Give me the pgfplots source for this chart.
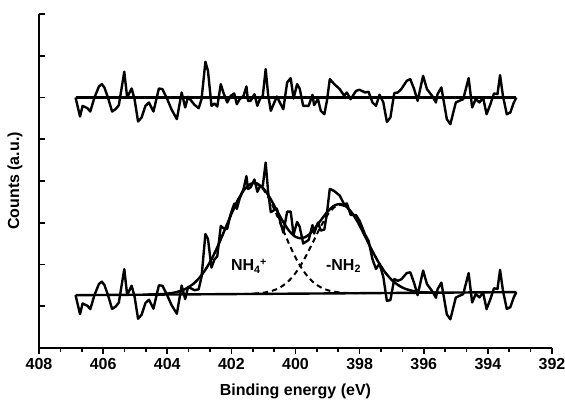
\documentclass[border=0pt]{standalone}
\usepackage{fontspec}
\setmainfont{Liberation Sans}
\usepackage{pgfplots}
\pgfplotsset{compat=1.18}

\begin{document}
\begin{tikzpicture}
\begin{axis}[
  scale only axis,
  width=384.75pt, height=250.5pt,
  x dir=reverse,
  xmin=392, xmax=408, ymin=0, ymax=8,
  axis x line*=bottom, axis y line*=left,
  axis line style={line width=1.5pt},
  xtick={392,394,...,408}, minor x tick num=2,
  ytick={0,...,8}, yticklabels={},
  xtick align=outside, ytick align=inside,
  major tick length=4.5pt, minor tick length=3pt,
  every tick/.style={line width=1.3pt, black},
  /pgf/number format/assume math mode=true,
  /pgf/number format/1000 sep={},
  tick label style={font=\fontsize{12}{14}\selectfont\bfseries},
  label style={font=\fontsize{12}{14}\selectfont\bfseries},
  xlabel={Binding energy (eV)},
  ylabel={Counts (a.u.)},
  xlabel style={at={(axis description cs:0.5,-0.13)}, anchor=center},
  ylabel style={at={(axis description cs:-0.047,0.5)}, anchor=center},
  clip=false,
]
% upper spectrum (raw)
\addplot[black, line width=1.8pt, line join=round] coordinates {
(406.86,6.00)(406.72,5.544)(406.64,5.80)(406.49,5.744)(406.40,5.664)(406.27,6.00)(406.13,6.264)(406.04,6.32)(405.96,6.24)(405.85,6.00)(405.72,5.664)(405.61,5.72)(405.51,5.816)(405.34,6.616)(405.25,6.00)(405.11,6.216)(405.02,5.96)(404.91,5.424)(404.80,5.52)(404.68,5.80)(404.57,5.88)(404.43,5.664)(404.26,6.216)(404.15,6.20)(404.00,5.96)(403.87,5.72)(403.70,5.48)(403.55,6.12)(403.44,5.76)(403.35,6.016)(403.15,5.824)(403.02,5.744)(402.93,5.96)(402.81,6.856)(402.73,6.64)(402.62,5.80)(402.53,5.856)(402.44,5.784)(402.33,6.32)(402.25,6.12)(402.13,5.88)(402.02,6.04)(401.91,6.096)(401.83,5.84)(401.74,5.96)(401.62,6.04)(401.53,6.264)(401.48,5.92)(401.40,5.92)(401.28,6.08)(401.19,5.80)(401.11,5.96)(401.02,6.04)(400.93,6.68)(400.85,6.04)(400.77,5.68)(400.66,5.88)(400.58,6.024)(400.49,5.88)(400.38,5.72)(400.26,6.36)(400.15,6.464)(400.06,5.976)(399.95,6.32)(399.87,6.216)(399.76,5.80)(399.59,5.80)(399.47,6.064)(399.42,5.816)(399.30,5.96)(399.21,5.68)(399.10,5.60)(399.02,5.92)(398.93,6.44)(398.79,6.32)(398.62,6.20)(398.48,6.04)(398.40,6.12)(398.28,5.96)(398.11,6.16)(398.00,6.184)(397.83,6.12)(397.72,6.136)(397.60,5.88)(397.49,5.80)(397.38,6.064)(397.26,5.88)(397.15,5.416)(397.04,5.52)(396.92,6.104)(396.81,6.12)(396.70,6.20)(396.53,6.40)(396.42,6.44)(396.30,6.20)(396.19,5.92)(396.02,6.52)(395.90,6.20)(395.74,6.04)(395.62,5.88)(395.57,6.08)(395.45,6.24)(395.28,5.48)(395.17,5.36)(395.00,5.88)(394.89,5.92)(394.77,5.96)(394.60,6.464)(394.49,5.76)(394.38,5.96)(394.26,5.88)(394.15,6.00)(394.04,5.60)(393.92,5.84)(393.81,6.096)(393.70,6.08)(393.62,6.536)(393.53,6.04)(393.41,5.60)(393.30,5.64)(393.19,5.88)(393.11,6.00)
};
% upper baseline
\addplot[black, line width=1.8pt] coordinates {(406.86,6)(393.11,6)};
% lower spectrum (raw)
\addplot[black, line width=1.8pt, line join=round] coordinates {
(406.86,1.265)(406.72,0.810)(406.64,1.066)(406.49,1.011)(406.40,0.931)(406.27,1.268)(406.13,1.533)(406.04,1.589)(405.96,1.510)(405.85,1.270)(405.72,0.935)(405.61,0.991)(405.51,1.088)(405.34,1.889)(405.25,1.273)(405.11,1.490)(405.02,1.234)(404.91,0.699)(404.80,0.796)(404.68,1.076)(404.57,1.157)(404.43,0.941)(404.26,1.502)(404.15,1.490)(404.00,1.261)(403.87,1.034)(403.70,0.820)(403.55,1.496)(403.44,1.171)(403.35,1.464)(403.15,1.384)(403.02,1.405)(402.93,1.703)(402.81,2.730)(402.73,2.612)(402.62,1.925)(402.53,2.118)(402.44,2.196)(402.33,2.923)(402.25,2.869)(402.13,2.850)(402.02,3.212)(401.91,3.458)(401.83,3.333)(401.74,3.583)(401.62,3.809)(401.53,4.115)(401.48,3.807)(401.40,3.846)(401.28,4.036)(401.19,3.740)(401.11,3.867)(401.02,3.884)(400.93,4.441)(400.85,3.712)(400.77,3.254)(400.66,3.304)(400.58,3.337)(400.49,3.067)(400.38,2.763)(400.26,3.266)(400.15,3.268)(400.06,2.720)(399.95,3.019)(399.87,2.905)(399.76,2.503)(399.59,2.586)(399.47,2.944)(399.42,2.741)(399.30,3.003)(399.21,2.812)(399.10,2.838)(399.02,3.226)(398.93,3.812)(398.79,3.758)(398.62,3.650)(398.48,3.438)(398.40,3.464)(398.28,3.190)(398.11,3.181)(398.00,3.045)(397.83,2.719)(397.72,2.564)(397.60,2.128)(397.49,1.894)(397.38,2.018)(397.26,1.700)(397.15,1.130)(397.04,1.146)(396.92,1.650)(396.81,1.609)(396.70,1.645)(396.53,1.794)(396.42,1.813)(396.30,1.556)(396.19,1.265)(396.02,1.854)(395.90,1.531)(395.74,1.364)(395.62,1.204)(395.57,1.405)(395.45,1.565)(395.28,0.806)(395.17,0.687)(395.00,1.207)(394.89,1.248)(394.77,1.289)(394.60,1.794)(394.49,1.090)(394.38,1.291)(394.26,1.211)(394.15,1.332)(394.04,0.932)(393.92,1.173)(393.81,1.430)(393.70,1.414)(393.62,1.871)(393.53,1.375)(393.41,0.936)(393.30,0.977)(393.19,1.217)(393.11,1.338)
};
% lower baseline
\addplot[black, line width=1.8pt] coordinates {(406.86,1.265)(393.11,1.338)};
% NH4+ component
\addplot[black, line width=1.5pt, dash pattern=on 4pt off 3pt, smooth] coordinates {
(404.6,1.279)(404.4,1.283)(404.2,1.289)(404.0,1.301)(403.8,1.324)(403.6,1.362)(403.4,1.427)(403.2,1.528)(403.0,1.678)(402.8,1.886)(402.6,2.155)(402.4,2.480)(402.2,2.841)(402.0,3.207)(401.8,3.538)(401.6,3.789)(401.4,3.926)(401.3,3.944)(401.2,3.927)(401.0,3.792)(400.8,3.543)(400.6,3.214)(400.4,2.850)(400.2,2.491)(400.0,2.168)(399.8,1.901)(399.6,1.695)(399.4,1.547)(399.2,1.448)(399.0,1.385)(398.8,1.349)(398.6,1.328)(398.4,1.318)(398.2,1.314)(398.0,1.312)(397.8,1.311)
};
% -NH2 component
\addplot[black, line width=1.5pt, dash pattern=on 4pt off 3pt, smooth] coordinates {
(401.6,1.295)(401.4,1.299)(401.2,1.308)(401.0,1.324)(400.8,1.354)(400.6,1.405)(400.4,1.489)(400.2,1.615)(400.0,1.794)(399.8,2.028)(399.6,2.310)(399.4,2.620)(399.2,2.926)(399.0,3.187)(398.8,3.364)(398.6,3.427)(398.4,3.366)(398.2,3.191)(398.0,2.932)(397.8,2.628)(397.6,2.320)(397.4,2.040)(397.2,1.808)(397.0,1.631)(396.8,1.507)(396.6,1.425)(396.4,1.376)(396.2,1.348)(396.0,1.334)(395.8,1.327)(395.6,1.325)
};
% envelope
\addplot[black, line width=1.8pt, smooth] coordinates {
(404.6,1.279)(404.4,1.283)(404.2,1.289)(404.0,1.301)(403.8,1.324)(403.6,1.362)(403.4,1.427)(403.2,1.528)(403.0,1.678)(402.8,1.886)(402.6,2.155)(402.4,2.480)(402.2,2.841)(402.0,3.207)(401.8,3.539)(401.6,3.792)(401.4,3.932)(401.3,3.954)(401.2,3.941)(401.0,3.821)(400.8,3.601)(400.6,3.322)(400.4,3.041)(400.2,2.807)(400.0,2.662)(399.8,2.628)(399.6,2.703)(399.4,2.864)(399.2,3.070)(399.0,3.267)(398.8,3.407)(398.6,3.448)(398.4,3.376)(398.2,3.196)(398.0,2.934)(397.8,2.628)(397.6,2.320)(397.4,2.040)(397.2,1.808)(397.0,1.631)(396.8,1.507)(396.6,1.425)(396.4,1.376)(396.2,1.348)(396.0,1.334)(395.8,1.327)(395.6,1.325)
};
\node[font=\fontsize{12}{14}\selectfont\bfseries] at (axis cs:401.45,1.96) {NH\textsubscript{4}\kern-0.5pt\textsuperscript{+}};
\node[font=\fontsize{12}{14}\selectfont\bfseries] at (axis cs:398.5,1.96) {-NH\textsubscript{2}};
\end{axis}
\pgfresetboundingbox
\path[use as bounding box] ([shift={(-29.25pt,-42.75pt)}]current axis.south west) rectangle ([shift={(9.75pt,10.5pt)}]current axis.north east);
\end{tikzpicture}
\end{document}
